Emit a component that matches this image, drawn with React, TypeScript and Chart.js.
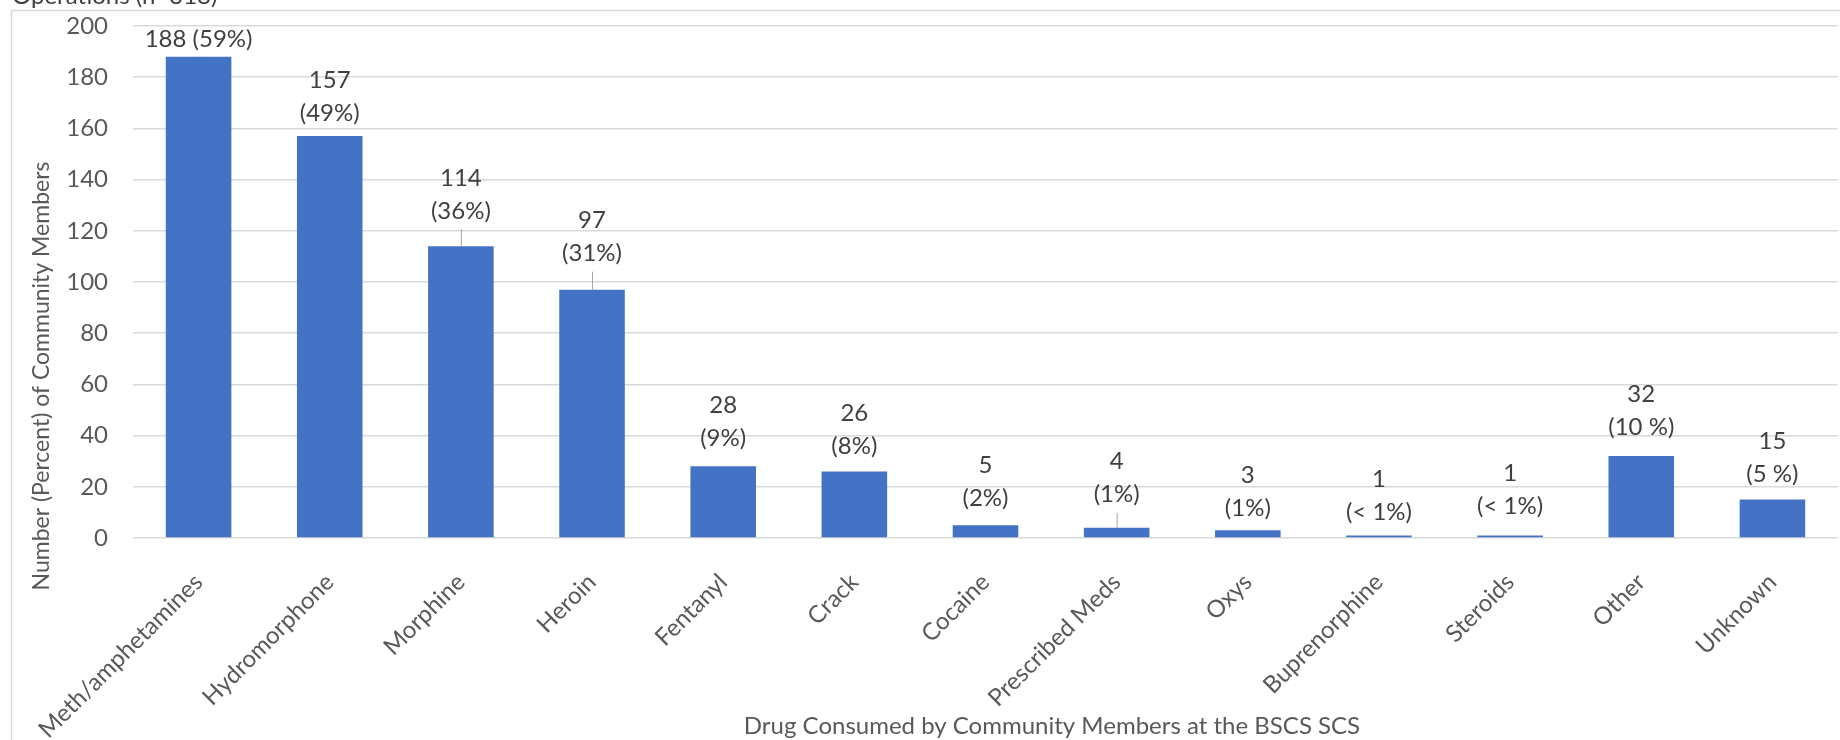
import React, { useEffect, useRef } from "react";
import { Chart, registerables } from "chart.js";

Chart.register(...registerables);

// ---- data ----
const categories = [
  "Meth/amphetamines",
  "Hydromorphone",
  "Morphine",
  "Heroin",
  "Fentanyl",
  "Crack",
  "Cocaine",
  "Prescribed Meds",
  "Oxys",
  "Buprenorphine",
  "Steroids",
  "Other",
  "Unknown",
];
const counts = [188, 157, 114, 97, 28, 26, 5, 4, 3, 1, 1, 32, 15];
const percentLabels = [
  "(59%)",
  "(49%)",
  "(36%)",
  "(31%)",
  "(9%)",
  "(8%)",
  "(2%)",
  "(1%)",
  "(1%)",
  "(< 1%)",
  "(< 1%)",
  "(10 %)",
  "(5 %)",
];
const yMax = 200;
const yStep = 20;
const topTitle = "Operations (n=318)";
const xAxisTitle = "Drug Consumed by Community Members at the BSCS SCS";
const yAxisTitle = "Number (Percent) of Community Members";

// ---- label placement (style, not data) ----
const labelGap = [17, 23, 35, 36, 28, 25, 27, 33, 22, 23, 29, 29, 25];
const labelOneLine = [true, false, false, false, false, false, false, false, false, false, false, false, false];

const FONT_FAMILY = "Lato, 'Open Sans', sans-serif";
const FONT_SIZE = 24;
const TEXT_GRAY = "#595959";
const LABEL_GRAY = "#404040";
const LINE_H = 33;

const framePlugin = {
  id: "frame",
  beforeDraw(chart: any) {
    const ctx = chart.ctx;
    ctx.save();
    ctx.fillStyle = "#ffffff";
    ctx.fillRect(0, 0, chart.width, chart.height);
    ctx.strokeStyle = "#d9d9d9";
    ctx.lineWidth = 1.5;
    ctx.strokeRect(11.5, 10.5, chart.width + 20, chart.height + 20);
    ctx.restore();
  },
  afterDraw(chart: any) {
    const ctx = chart.ctx;
    ctx.save();
    ctx.font = `${FONT_SIZE}px ${FONT_FAMILY}`;
    ctx.fillStyle = LABEL_GRAY;
    ctx.textAlign = "left";
    ctx.textBaseline = "alphabetic";
    ctx.fillText(topTitle, 12, 4);

    ctx.fillStyle = TEXT_GRAY;
    ctx.textAlign = "center";
    ctx.textBaseline = "middle";
    ctx.fillText(xAxisTitle, 1052, 726);

    ctx.font = `23px ${FONT_FAMILY}`;
    ctx.translate(42, 376);
    ctx.rotate(-Math.PI / 2);
    ctx.fillText(yAxisTitle, 0, 0);
    ctx.restore();
  },
};

const labelPlugin = {
  id: "barLabels",
  afterDatasetsDraw(chart: any) {
    const ctx = chart.ctx;
    const meta = chart.getDatasetMeta(0);
    ctx.save();
    ctx.font = `${FONT_SIZE}px ${FONT_FAMILY}`;
    ctx.fillStyle = LABEL_GRAY;
    ctx.textAlign = "center";
    ctx.textBaseline = "middle";
    meta.data.forEach((bar: any, i: number) => {
      const x = bar.x;
      const top = bar.y;
      const gap = labelGap[i];
      const c2 = top - gap;
      if (labelOneLine[i]) {
        ctx.fillText(`${counts[i]} ${percentLabels[i]}`, x, c2);
      } else {
        ctx.fillText(String(counts[i]), x, c2 - LINE_H);
        ctx.fillText(percentLabels[i], x, c2);
      }
      if (gap > 30) {
        ctx.strokeStyle = "#a6a6a6";
        ctx.lineWidth = 1;
        ctx.beginPath();
        ctx.moveTo(x + 0.5, c2 + 18);
        ctx.lineTo(x + 0.5, top);
        ctx.stroke();
      }
    });
    ctx.restore();
  },
};

export default function App() {
  const ref = useRef<HTMLCanvasElement | null>(null);

  useEffect(() => {
    if (!ref.current) return;
    const font = { family: FONT_FAMILY, size: FONT_SIZE };
    const chart = new Chart(ref.current, {
      type: "bar",
      data: {
        labels: categories,
        datasets: [
          {
            data: counts,
            backgroundColor: "#4472C4",
            borderWidth: 0,
            barPercentage: 0.5,
            categoryPercentage: 1,
          },
        ],
      },
      options: {
        responsive: false,
        animation: false,
        layout: { padding: { top: 26, right: 2, left: 0, bottom: 0 } },
        plugins: {
          legend: { display: false },
          tooltip: { enabled: false },
          title: { display: false },
        },
        scales: {
          x: {
            grid: { display: false, drawTicks: false },
            border: { display: false },
            ticks: {
              color: TEXT_GRAY,
              font: { family: FONT_FAMILY, size: 24 },
              minRotation: 45,
              maxRotation: 45,
              autoSkip: false,
              padding: 30,
            },
            afterFit(s: any) {
              s.height = 740 - 538;
            },
          },
          y: {
            min: 0,
            max: yMax,
            ticks: { stepSize: yStep, color: TEXT_GRAY, font, padding: 25 },
            grid: { color: "#d9d9d9", lineWidth: 1.5, drawTicks: false },
            border: { display: false },
            afterFit(s: any) {
              s.width = 133;
              s.paddingTop = 0;
              s.paddingBottom = 0;
            },
          },
        },
      },
      plugins: [framePlugin, labelPlugin],
    });
    return () => chart.destroy();
  }, []);

  return (
    <div style={{ position: "absolute", left: 0, top: 0, width: 1840, height: 740 }}>
      <canvas ref={ref} width={1840} height={740} style={{ display: "block" }} />
    </div>
  );
}
